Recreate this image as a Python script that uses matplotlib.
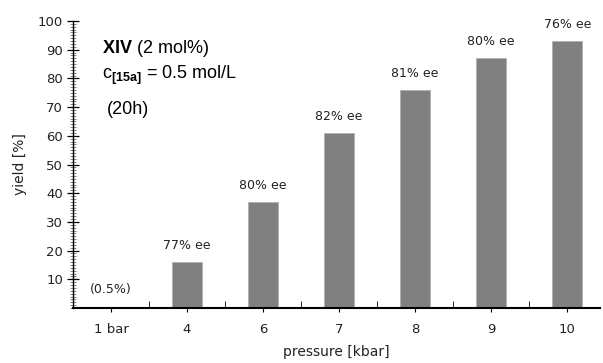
import matplotlib
matplotlib.use('Agg')
import matplotlib.pyplot as plt
from matplotlib.ticker import MultipleLocator, FixedLocator

# data
categories = ['1 bar', '4', '6', '7', '8', '9', '10']
yields = [0.5, 16, 37, 61, 76, 87, 93]
ee_labels = ['(0.5%)', '77% ee', '80% ee', '82% ee', '81% ee', '80% ee', '76% ee']

plt.rcParams['mathtext.fontset'] = 'custom'
plt.rcParams['mathtext.rm'] = 'Liberation Sans'
plt.rcParams['mathtext.bf'] = 'Liberation Sans:bold'

fig = plt.figure(figsize=(6.03, 3.63), dpi=100)
ax = fig.add_axes([0.121, 0.1515, 0.874, 0.7906])

x = list(range(len(categories)))
ax.bar(x, yields, width=0.4, color='#808080', edgecolor='#b0b0b0', linewidth=0.6)

for xi, yi, lab in zip(x, yields, ee_labels):
    ax.annotate(lab, (xi, yi), xytext=(0, 12), textcoords='offset points',
                ha='center', va='center', fontsize=9, family='DejaVu Sans',
                color='#222222')

ax.set_xlim(-0.5, 6.43)
ax.set_ylim(0, 100)
ax.set_xticks(x)
ax.set_xticklabels(categories, fontsize=9.5, color='#222222')
ax.xaxis.set_minor_locator(FixedLocator([i + 0.5 for i in range(-1, 7)]))
ax.tick_params(axis='x', which='major', direction='out', length=3, pad=8)
ax.tick_params(axis='x', which='minor', direction='in', length=5)

ax.set_yticks(range(10, 101, 10))
ax.yaxis.set_minor_locator(MultipleLocator(1))
ax.tick_params(axis='y', which='major', direction='inout', length=8, width=0.9,
               labelsize=9.5, labelcolor='#222222', pad=3)
ax.tick_params(axis='y', which='minor', direction='inout', length=4, width=0.5,
               color='#555555')

for s in ['top', 'right']:
    ax.spines[s].set_visible(False)
ax.spines['left'].set_linewidth(1.0)
ax.spines['bottom'].set_linewidth(1.5)

ax.set_xlabel('pressure [kbar]', fontsize=10, color='#222222', labelpad=6)
ax.set_ylabel('yield [%]', fontsize=10, color='#222222', labelpad=8)

ax.text(0.0545, 0.904, r'$\mathbf{XIV}$ (2 mol%)', transform=ax.transAxes,
        fontsize=13, family='Liberation Sans', va='center')
ax.text(0.0545, 0.81, r'c$_{\mathbf{[15a]}}$ = 0.5 mol/L', transform=ax.transAxes,
        fontsize=13, family='Liberation Sans', va='center')
ax.text(0.065, 0.69, '(20h)', transform=ax.transAxes,
        fontsize=13, family='Liberation Sans', va='center')

fig.savefig('out.png', dpi=100)
